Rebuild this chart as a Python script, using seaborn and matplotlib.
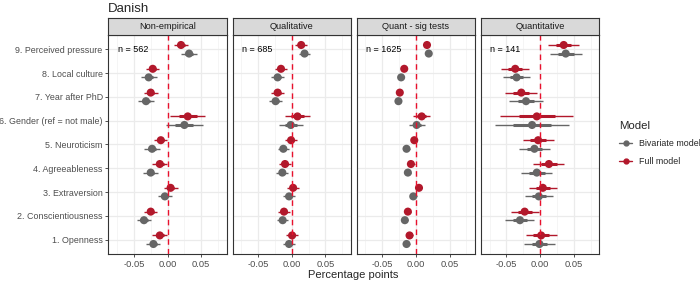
import numpy as np
import pandas as pd
import matplotlib
matplotlib.use('Agg')
import matplotlib.pyplot as plt
import seaborn as sns
from matplotlib.lines import Line2D

# data (items 1..9)
items = ['1. Openness', '2. Conscientiousness', '3. Extraversion', '4. Agreeableness',
         '5. Neuroticism', '6. Gender (ref = not male)', '7. Year after PhD',
         '8. Local culture', '9. Perceived pressure']
panels = ['Non-empirical', 'Qualitative', 'Quant - sig tests', 'Quantitative']
n_obs = [562, 685, 1625, 141]

# point estimates and 95% half-widths, full model
full_nonemp = [-0.0115, -0.025, 0.0045, -0.0115, -0.010, 0.030, -0.025, -0.022, 0.020]
full_nonemp_ci = [0.011, 0.0095, 0.0105, 0.011, 0.0095, 0.026, 0.0105, 0.010, 0.0105]
full_qual = [0.0005, -0.0115, 0.002, -0.010, -0.001, 0.0085, -0.021, -0.016, 0.014]
full_qual_ci = [0.009, 0.009, 0.009, 0.0095, 0.009, 0.019, 0.0095, 0.0085, 0.0085]
full_sig = [-0.0095, -0.012, 0.0045, -0.0075, -0.0025, 0.0085, -0.024, -0.0174, 0.0164]
full_sig_ci = [0.005, 0.005, 0.005, 0.0055, 0.0045, 0.013, 0.004, 0.0045, 0.0035]
full_quant = [0.0015, -0.023, 0.004, 0.013, -0.003, -0.005, -0.028, -0.037, 0.035]
full_quant_ci = [0.023, 0.021, 0.021, 0.023, 0.023, 0.054, 0.024, 0.0205, 0.023]

# bivariate model
biv_nonemp = [-0.021, -0.035, -0.004, -0.025, -0.023, 0.025, -0.032, -0.028, 0.032]
biv_nonemp_ci = [0.0105, 0.011, 0.0105, 0.011, 0.0115, 0.027, 0.012, 0.012, 0.012]
biv_qual = [-0.004, -0.0135, -0.004, -0.014, -0.0125, -0.0015, -0.024, -0.021, 0.019]
biv_qual_ci = [0.0087, 0.008, 0.0085, 0.009, 0.0083, 0.018, 0.010, 0.0095, 0.0083]
biv_sig = [-0.014, -0.0165, -0.004, -0.012, -0.014, 0.001, -0.026, -0.022, 0.019]
biv_sig_ci = [0.005, 0.005, 0.005, 0.005, 0.0045, 0.012, 0.004, 0.0045, 0.0035]
biv_quant = [-0.001, -0.030, -0.002, -0.005, -0.0085, -0.012, -0.021, -0.035, 0.038]
biv_quant_ci = [0.0235, 0.0215, 0.0205, 0.023, 0.0225, 0.0555, 0.025, 0.020, 0.0235]

full_est = [full_nonemp, full_qual, full_sig, full_quant]
full_ci = [full_nonemp_ci, full_qual_ci, full_sig_ci, full_quant_ci]
biv_est = [biv_nonemp, biv_qual, biv_sig, biv_quant]
biv_ci = [biv_nonemp_ci, biv_qual_ci, biv_sig_ci, biv_quant_ci]

rows = []
for p, panel in enumerate(panels):
    for i, item in enumerate(items):
        rows.append(dict(panel=panel, item=item, pos=i + 1, Model='Full model',
                         est=full_est[p][i], ci=full_ci[p][i]))
        rows.append(dict(panel=panel, item=item, pos=i + 1, Model='Bivariate model',
                         est=biv_est[p][i], ci=biv_ci[p][i]))
df = pd.DataFrame(rows)
df['y'] = df.pos + np.where(df.Model == 'Full model', 0.18, -0.18)

sns.set_theme(style='white')
plt.rcParams['font.family'] = ['Liberation Sans', 'DejaVu Sans']
colors = {'Bivariate model': '#666666', 'Full model': '#B2182B'}

W, H = 700, 282
fig = plt.figure(figsize=(7, 2.82), dpi=100)

for p, panel in enumerate(panels):
    x0 = 108.3 + p * 124.2
    ax = fig.add_axes([x0 / W, (H - 254) / H, 118.5 / W, (254 - 35) / H])
    sub = df[df.panel == panel]
    ax.set_xlim(-0.088, 0.088)
    ax.set_ylim(0.4, 9.6)
    for v in [-0.075, -0.025, 0.025, 0.075]:
        ax.axvline(v, color='#F2F2F2', lw=0.5, zorder=0)
    for v in [-0.05, 0, 0.05]:
        ax.axvline(v, color='#EBEBEB', lw=0.9, zorder=0)
    for v in range(1, 10):
        ax.axhline(v, color='#EBEBEB', lw=0.9, zorder=0)
    for m, g in sub.groupby('Model'):
        ax.hlines(g.y, g.est - g.ci, g.est + g.ci, color=colors[m], lw=1.0, zorder=2)
        ax.hlines(g.y, g.est - g.ci / 2, g.est + g.ci / 2, color=colors[m], lw=2.2, zorder=2)
    sns.scatterplot(data=sub, x='est', y='y', hue='Model', palette=colors, s=34,
                    edgecolor='none', legend=False, ax=ax, zorder=3)
    ax.axvline(0, color='#E8112D', lw=1.0, ls=(0, (4, 3)), zorder=4)
    ax.text(-0.074, 9, f'n = {n_obs[p]}', fontsize=6.5, color='black', va='center', ha='left')
    ax.set_xticks([-0.05, 0, 0.05])
    ax.set_xticklabels(['-0.05', '0.00', '0.05'], fontsize=6.7, color='#4D4D4D')
    ax.set_yticks(range(1, 10))
    if p == 0:
        ax.set_yticklabels(items, fontsize=6.4, color='#4D4D4D')
    else:
        ax.set_yticklabels([])
    ax.tick_params(axis='both', length=2.5, width=0.6, color='#333333', pad=1.5,
                   left=(p == 0), bottom=True)
    ax.set_xlabel('')
    ax.set_ylabel('')
    for s in ax.spines.values():
        s.set_color('#333333')
        s.set_linewidth(0.8)
    # strip
    sax = fig.add_axes([x0 / W, (H - 35) / H, 118.5 / W, 17 / H])
    sax.set_facecolor('#D9D9D9')
    sax.set_xticks([])
    sax.set_yticks([])
    for s in sax.spines.values():
        s.set_color('#333333')
        s.set_linewidth(0.8)
    sax.text(0.5, 0.5, panel, ha='center', va='center', fontsize=6.6, color='#1A1A1A',
             transform=sax.transAxes)

fig.text(108 / W, 1 - 9 / H, 'Danish', fontsize=9.5, ha='left', va='center')
fig.text(353 / W, 1 - 275 / H, 'Percentage points', fontsize=8.0, ha='center', va='center')

handles = [Line2D([0], [0], color=colors[m], lw=1.0, marker='o', markersize=3.5)
           for m in ['Bivariate model', 'Full model']]
leg = fig.legend(handles, ['Bivariate model', 'Full model'], title='Model',
                 loc='upper left', bbox_to_anchor=(611 / W, 1 - 113 / H), frameon=False,
                 fontsize=6.4, title_fontsize=8.2, handlelength=1.5, labelspacing=0.95,
                 handletextpad=0.7)
leg._legend_box.align = 'left'

fig.savefig('out.png', dpi=100)
